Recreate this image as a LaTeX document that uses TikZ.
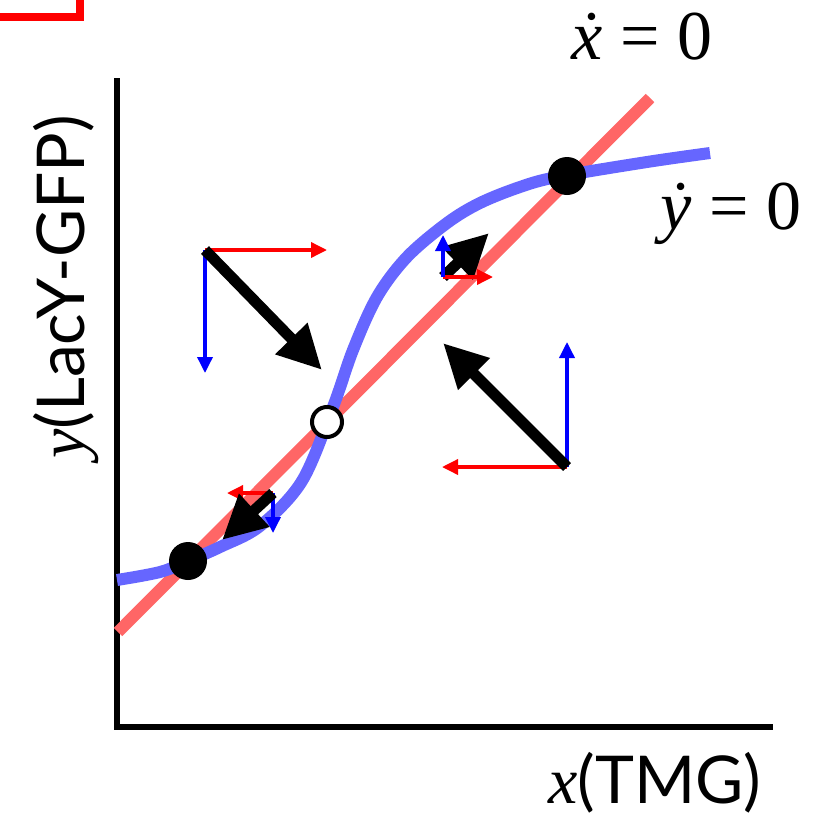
\documentclass[tikz,border=0pt]{standalone}
\usepackage{fontspec}
\setmainfont{Liberation Serif}
\newfontfamily\gillfont{Lato}
\usetikzlibrary{arrows.meta}
\definecolor{nullx}{RGB}{255,102,102}
\definecolor{nully}{RGB}{102,102,255}
\tikzset{
  axisline/.style={line width=6pt},
  xnull/.style={nullx, line width=12pt},
  ynull/.style={nully, line width=12pt},
  flowarrow/.style={line width=11pt, -{Triangle[length=44pt,width=42pt]}},
  xcomp/.style={red, line width=3.5pt, -{Triangle[length=16pt,width=15pt]}},
  ycomp/.style={blue, line width=3.5pt, -{Triangle[length=16pt,width=15pt]}},
  stablept/.style={circle, fill=black, inner sep=0pt, minimum size=38pt},
  unstablept/.style={circle, fill=white, draw=black, line width=4pt, inner sep=0pt, minimum size=30pt},
  biglabel/.style={font=\fontsize{66}{70}\selectfont, inner sep=0pt},
  eqlabel/.style={font=\fontsize{70}{74}\selectfont, inner sep=0pt},
}
\begin{document}
\begin{tikzpicture}[x=1pt,y=-1pt]
\useasboundingbox (0,0) rectangle (821,819);
% red frame corner
\draw[red, line width=7.5pt] (-40,17) -| (80,-40);
% axes
\coordinate (O) at (117,727);
\coordinate (ytop) at (117,78);
\coordinate (xend) at (773,727);
\draw[axisline] (ytop) -- (O) -- (xend);
% nullclines
\coordinate (xa) at (118,632);
\coordinate (xb) at (650,98);
\draw[xnull] (xa) -- (xb);
\draw[ynull] plot[smooth, tension=0.55] coordinates {(117,580) (160,572) (188,561) (220,547) (260,526) (302,481) (333,407) (353,350) (377,297) (407,257) (447,223) (480,203) (520,187) (557,177) (647,162) (710,153)};
% vector field 1 (upper left)
\coordinate (p1) at (205,250);
\coordinate (p1x) at (327,250);
\coordinate (p1y) at (205,373);
\coordinate (p1t) at (322,370);
\draw[xcomp] (p1) -- (p1x);
\draw[ycomp] (p1) -- (p1y);
\draw[flowarrow] (p1) -- (p1t);
% vector field 2 (upper small)
\coordinate (p2) at (443,277);
\coordinate (p2x) at (493,277);
\coordinate (p2y) at (443,235);
\coordinate (p2t) at (489,233);
\draw[flowarrow] (p2) -- (p2t);
\draw[xcomp] (p2) -- (p2x);
\draw[ycomp] (p2) -- (p2y);
% vector field 3 (lower small)
\coordinate (p3) at (273,493);
\coordinate (p3x) at (227,493);
\coordinate (p3y) at (273,533);
\coordinate (p3t) at (222,540);
\draw[xcomp] (p3) -- (p3x);
\draw[ycomp] (p3) -- (p3y);
\draw[flowarrow] (p3) -- (p3t);
% vector field 4 (right)
\coordinate (p4) at (567,467);
\coordinate (p4x) at (442,467);
\coordinate (p4y) at (567,342);
\coordinate (p4t) at (443,343);
\draw[xcomp] (p4) -- (p4x);
\draw[ycomp] (p4) -- (p4y);
\draw[flowarrow] (p4) -- (p4t);
% fixed points
\node[stablept] (s1) at (188,561) {};
\node[stablept] (s2) at (567,176) {};
\node[unstablept] (u1) at (327,422) {};
% labels
\node[eqlabel, anchor=base] (xdot) at (642,59) {\textit{\.{x}} = 0};
\node[eqlabel, anchor=base] (ydot) at (731,229) {\textit{\.{y}} = 0};
\node[biglabel, anchor=base] (xlab) at (655,803) {\textit{x}{\gillfont(TMG)}};
\node[biglabel, anchor=base, rotate=90] (ylab) at (84,287) {\textit{y}{\gillfont(LacY-GFP)}};
\end{tikzpicture}
\end{document}
